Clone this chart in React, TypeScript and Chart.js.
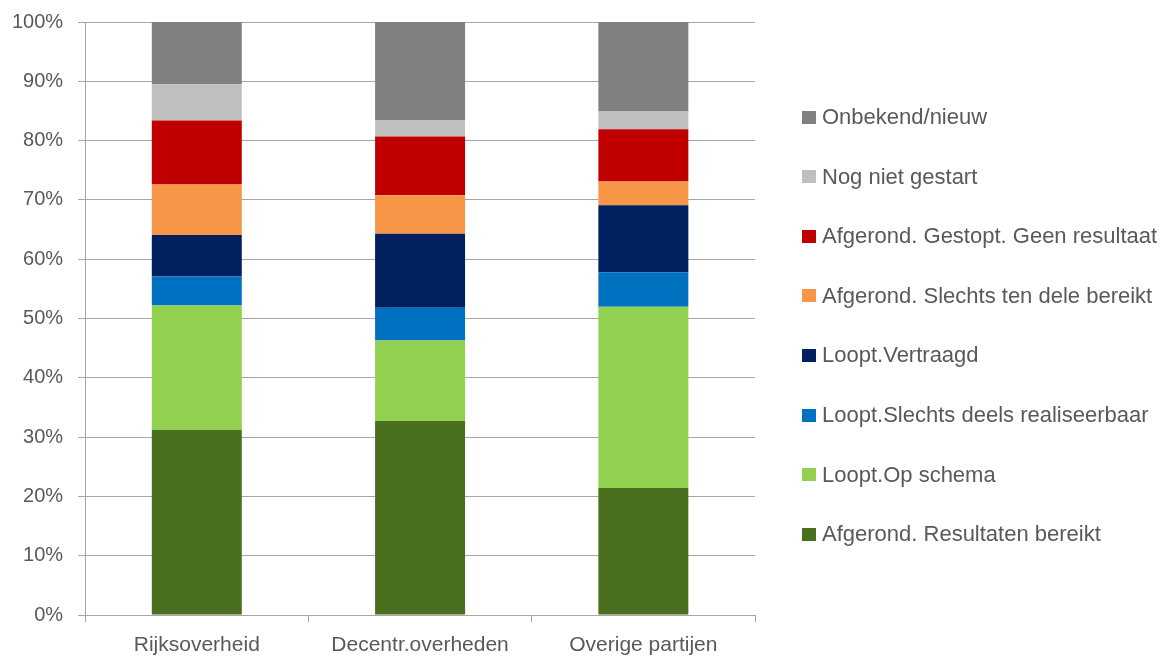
import React, { useEffect, useRef } from "react";
import { Chart, registerables } from "chart.js";

Chart.register(...registerables);

const categories = ["Rijksoverheid", "Decentr.overheden", "Overige partijen"];

const resultatenBereikt = [31.2, 32.7, 21.4];
const opSchema = [21.0, 13.6, 30.6];
const deelsRealiseerbaar = [4.9, 5.5, 5.8];
const vertraagd = [7.0, 12.5, 11.3];
const tenDeleBereikt = [8.5, 6.5, 4.0];
const geenResultaat = [10.8, 9.9, 8.8];
const nietGestart = [6.1, 2.7, 3.0];
const onbekend = [10.5, 16.6, 15.1];

const yTicks = [0, 10, 20, 30, 40, 50, 60, 70, 80, 90, 100];

const seriesDefs = [
  { label: "Afgerond. Resultaten bereikt", data: resultatenBereikt, color: "#4a6f1f" },
  { label: "Loopt.Op schema", data: opSchema, color: "#92d050" },
  { label: "Loopt.Slechts deels realiseerbaar", data: deelsRealiseerbaar, color: "#0070c0" },
  { label: "Loopt.Vertraagd", data: vertraagd, color: "#002060" },
  { label: "Afgerond. Slechts ten dele bereikt", data: tenDeleBereikt, color: "#f79646" },
  { label: "Afgerond. Gestopt. Geen resultaat", data: geenResultaat, color: "#c00000" },
  { label: "Nog niet gestart", data: nietGestart, color: "#bfbfbf" },
  { label: "Onbekend/nieuw", data: onbekend, color: "#808080" },
];

const FONT = "'Liberation Sans', Arial, sans-serif";
const TEXT = "#595959";
const GRID = "#a6a6a6";

const sideLegend = {
  id: "sideLegend",
  afterDraw(chart: any) {
    const { ctx, chartArea } = chart;
    const ds = chart.data.datasets;
    const n = ds.length;
    const boxX = chartArea.right + 47;
    const firstY = chartArea.top + 95;
    const step = 59.6;
    ctx.save();
    ctx.font = `22px ${FONT}`;
    ctx.textBaseline = "middle";
    ctx.textAlign = "left";
    for (let k = 0; k < n; k++) {
      const d = ds[n - 1 - k];
      const cy = firstY + k * step;
      ctx.fillStyle = d.backgroundColor;
      ctx.fillRect(boxX, Math.round(cy - 6.5), 14, 13);
      ctx.fillStyle = TEXT;
      ctx.fillText(d.label, boxX + 20, cy + 1);
    }
    ctx.restore();
  },
};

export default function App() {
  const ref = useRef<HTMLCanvasElement | null>(null);

  useEffect(() => {
    document.body.style.margin = "0";
    const canvas = ref.current;
    if (!canvas) return;
    const chart = new Chart(canvas, {
      type: "bar",
      data: {
        labels: categories,
        datasets: seriesDefs.map((s) => ({
          label: s.label,
          data: s.data,
          backgroundColor: s.color,
          borderWidth: 0,
          barPercentage: 0.403,
          categoryPercentage: 1,
        })),
      },
      plugins: [sideLegend],
      options: {
        responsive: false,
        animation: false,
        devicePixelRatio: 1,
        layout: { padding: { top: 3, left: -3, right: 409, bottom: -12 } },
        plugins: {
          tooltip: { enabled: false },
          legend: { display: false },
        },
        scales: {
          x: {
            stacked: true,
            grid: {
              display: true,
              drawOnChartArea: false,
              drawTicks: true,
              tickLength: 7,
              color: GRID,
              offset: true,
            },
            border: { display: true, color: GRID, width: 1 },
            ticks: {
              color: TEXT,
              font: { family: FONT, size: 21, lineHeight: 1 },
              padding: 13,
              maxRotation: 0,
            },
          },
          y: {
            stacked: true,
            min: 0,
            max: 100,
            afterBuildTicks: (axis: any) => {
              axis.ticks = yTicks.map((v) => ({ value: v }));
            },
            grid: {
              color: GRID,
              tickLength: 7,
              drawTicks: true,
            },
            border: { display: true, color: GRID, width: 1 },
            ticks: {
              color: TEXT,
              font: { family: FONT, size: 20, lineHeight: 0.7 },
              padding: 15,
              callback: (v: any) => v + "%",
            },
          },
        },
      },
    });
    return () => chart.destroy();
  }, []);

  return (
    <div style={{ width: 1164, height: 657 }}>
      <canvas ref={ref} width={1164} height={657} style={{ display: "block" }} />
    </div>
  );
}
